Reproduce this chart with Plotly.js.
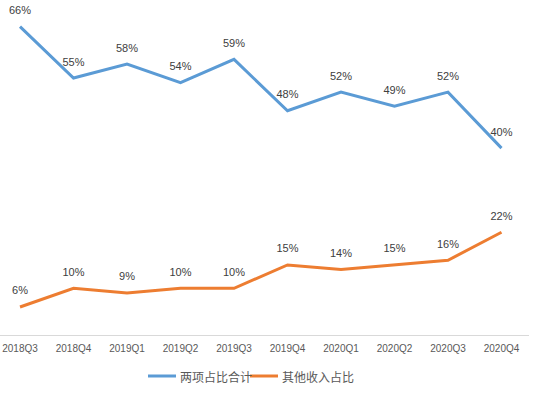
<!DOCTYPE html>
<html><head><meta charset="utf-8">
<script src="https://cdn.plot.ly/plotly-3.0.1.min.js"></script>
<style>html,body{margin:0;padding:0;background:#fff}#c{width:538px;height:393px}</style>
</head><body><div id="c"></div>
<script>
var categories = ["2018Q3","2018Q4","2019Q1","2019Q2","2019Q3","2019Q4","2020Q1","2020Q2","2020Q3","2020Q4"];
var twoItemsShare = [66,55,58,54,59,48,52,49,52,40];
var otherIncomeShare = [6,10,9,10,10,15,14,15,16,22];
var seriesNames = ["两项占比合计","其他收入占比"];
var seriesColors = ['#5B9BD5','#ED7D31'];
var idx = categories.map(function(_,i){return i;});
var fontFam = '"Liberation Sans", "Noto Sans CJK SC", sans-serif';
function tr(vals, name, color){
  return {x: idx, y: vals, name: name, type:'scatter', mode:'lines+markers+text',
    text: vals.map(function(v){return v+'%';}), textposition:'top center',
    textfont:{size:11,color:'#404040',family:fontFam},
    line:{color:color,width:3}, marker:{size:14,color:'rgba(0,0,0,0)'},
    cliponaxis:false, hoverinfo:'none', showlegend:false};
}
var data = [tr(twoItemsShare, seriesNames[0], seriesColors[0]), tr(otherIncomeShare, seriesNames[1], seriesColors[1])];
// manual legend (paper coords; plot area is 529px wide, 327px high)
var W = 529, H = 327;
var legY = -41/H;
var legItems = [{x0:148,x1:176,tx:178},{x0:250,x1:278,tx:280}];
var shapes = [], annotations = [];
legItems.forEach(function(it, i){
  shapes.push({type:'line', xref:'paper', yref:'paper', x0:it.x0/W, x1:it.x1/W, y0:legY, y1:legY,
    line:{color:seriesColors[i], width:3}});
  annotations.push({xref:'paper', yref:'paper', x:it.tx/W, y:legY, xanchor:'left', yanchor:'middle',
    text:seriesNames[i], showarrow:false, font:{size:12,color:'#595959',family:'"Noto Sans CJK SC", sans-serif'}});
});
var layout = {
  width:538, height:393, margin:{l:0,r:9,t:8,b:58},
  paper_bgcolor:'#fff', plot_bgcolor:'#fff', showlegend:false,
  font:{family:fontFam},
  xaxis:{range:[-0.374,9.514], tickvals:idx, ticktext:categories, showgrid:false, zeroline:false,
    showline:true, linecolor:'#d9d9d9', linewidth:1, ticks:'outside', ticklen:4, tickcolor:'rgba(0,0,0,0)',
    tickfont:{size:10,color:'#595959'}, fixedrange:true},
  yaxis:{range:[0,70], visible:false, fixedrange:true},
  shapes: shapes, annotations: annotations
};
Plotly.newPlot('c', data, layout, {displayModeBar:false, staticPlot:true});
</script></body></html>
